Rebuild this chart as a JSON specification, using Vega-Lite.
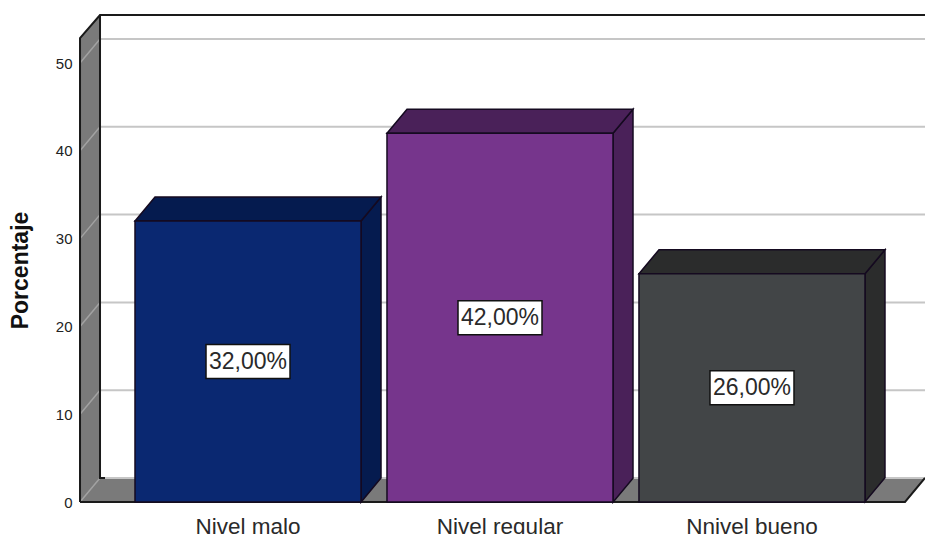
{
"$schema":"https://vega.github.io/schema/vega-lite/v6.json",
"autosize":{"type":"none"},
"padding":{"left":80,"top":0,"right":0,"bottom":32},
"width":845,"height":502,
"background":"white",
"config":{"view":{"stroke":null},"font":"Liberation Sans",
"axisX":{"ticks":false,"domain":false,"grid":false,"labelFontSize":22.5,"labelColor":"#2a2a2a","labelPadding":13,"labelAngle":0,"labelFont":"Liberation Sans"},
"axisY":{"grid":false,"ticks":false,"domain":false,"tickCount":6,"labelFontSize":15,"labelColor":"#222222","labelPadding":8,"labelFont":"Liberation Sans","titleFontSize":23,"titleFontWeight":"bold","titleColor":"#111111","titleFont":"Liberation Sans","titleX":-48,"titleY":270,"titleAngle":-90}},
"datasets":{
"barras":[
{"nivel":"Nivel malo","valor":32,"etiqueta":"32,00%"},
{"nivel":"Nivel regular","valor":42,"etiqueta":"42,00%"},
{"nivel":"Nnivel bueno","valor":26,"etiqueta":"26,00%"}],
"marcas":[{"marca":0},{"marca":10},{"marca":20},{"marca":30},{"marca":40},{"marca":50}],
"base":[{"marca":0}]
},
"layer":[
{"data":{"name":"base"},
"mark":{"type":"point","filled":true,"opacity":1,"size":4,"fill":"#7a7a7a","strokeWidth":0,"shape":"M-168,0 L-148,-24 L677,-24 L657,0 Z M-168,0 L-168,-464 L-148,-487 L-148,-24 Z"},
"encoding":{
"x":{"datum":"Nivel malo","type":"nominal","title":null,"sort":null,"scale":{"type":"band","domain":["Nivel malo","Nivel regular","Nnivel bueno"],"range":[55,785],"paddingInner":0.103,"paddingOuter":0}},
"y":{"field":"marca","type":"quantitative","title":"Porcentaje","scale":{"domain":[0,57.18],"range":[502,0],"nice":false,"zero":false}}}},
{"data":{"name":"marcas"},
"mark":{"type":"point","filled":false,"opacity":1,"size":4,"stroke":"#a2a2a2","strokeWidth":1.5,"shape":"M-168,0 L-148,-24"},
"encoding":{
"x":{"datum":"Nivel malo","type":"nominal","title":null},
"y":{"field":"marca","type":"quantitative","title":"Porcentaje"}}},
{"data":{"name":"marcas"},
"mark":{"type":"point","filled":false,"opacity":1,"size":4,"stroke":"#c6c6c6","strokeWidth":2,"shape":"M-148,-24 L700,-24"},
"encoding":{
"x":{"datum":"Nivel malo","type":"nominal","title":null},
"y":{"field":"marca","type":"quantitative","title":"Porcentaje"}}},
{"data":{"name":"base"},
"mark":{"type":"point","filled":false,"opacity":1,"size":4,"stroke":"#1a1a1a","strokeWidth":2,"shape":"M-168,0 L657,0 L677,-24 M-168,0 L-168,-464 L-148,-487 L700,-487 M-148,-487 L-148,-24 L-143,-24"},
"encoding":{
"x":{"datum":"Nivel malo","type":"nominal","title":null},
"y":{"field":"marca","type":"quantitative","title":"Porcentaje"}}},
{"data":{"name":"barras"},
"mark":{"type":"point","filled":true,"opacity":1,"size":4,"stroke":"#150a20","strokeWidth":1.5},
"encoding":{
"x":{"field":"nivel","type":"nominal","title":null},
"y":{"field":"valor","type":"quantitative","title":"Porcentaje"},
"shape":{"field":"nivel","type":"nominal","legend":null,"scale":{"domain":["Nivel malo","Nivel regular","Nnivel bueno"],"range":["M113,0 L133,-24 L133,257 L113,281 Z","M113,0 L133,-24 L133,345 L113,369 Z","M113,0 L133,-24 L133,204 L113,228 Z"]}},
"color":{"field":"nivel","type":"nominal","legend":null,"scale":{"domain":["Nivel malo","Nivel regular","Nnivel bueno"],"range":["#051b4f","#4a2159","#2b2c2c"]}}}},
{"data":{"name":"barras"},
"mark":{"type":"point","filled":true,"opacity":1,"size":4,"stroke":"#150a20","strokeWidth":1.5,"shape":"M-113,0 L-93,-24 L133,-24 L113,0 Z"},
"encoding":{
"x":{"field":"nivel","type":"nominal","title":null},
"y":{"field":"valor","type":"quantitative","title":"Porcentaje"},
"color":{"field":"nivel","type":"nominal","legend":null,"scale":{"domain":["Nivel malo","Nivel regular","Nnivel bueno"],"range":["#051b4f","#4a2159","#2b2c2c"]}}}},
{"data":{"name":"barras"},
"mark":{"type":"bar","stroke":"#150a20","strokeWidth":1.5},
"encoding":{
"x":{"field":"nivel","type":"nominal","title":null},
"y":{"field":"valor","type":"quantitative","title":"Porcentaje"},
"fill":{"field":"nivel","type":"nominal","legend":null,"scale":{"domain":["Nivel malo","Nivel regular","Nnivel bueno"],"range":["#0a2871","#76358c","#424547"]}}}},
{"data":{"name":"barras"},
"transform":[{"calculate":"datum.valor/2","as":"mitad"}],
"mark":{"type":"point","filled":true,"opacity":1,"size":4,"fill":"white","stroke":"#111111","strokeWidth":1.5,"shape":"M-42,-17 L42,-17 L42,17 L-42,17 Z"},
"encoding":{
"x":{"field":"nivel","type":"nominal","title":null},
"y":{"field":"mitad","type":"quantitative","title":"Porcentaje"}}},
{"data":{"name":"barras"},
"transform":[{"calculate":"datum.valor/2","as":"mitad"}],
"mark":{"type":"text","fontSize":23,"font":"Liberation Sans","color":"#2a2a2a","baseline":"middle"},
"encoding":{
"x":{"field":"nivel","type":"nominal","title":null},
"y":{"field":"mitad","type":"quantitative","title":"Porcentaje"},
"text":{"field":"etiqueta","type":"nominal"}}}
],
"resolve":{"scale":{"color":"independent","shape":"independent","fill":"independent"}}
}
